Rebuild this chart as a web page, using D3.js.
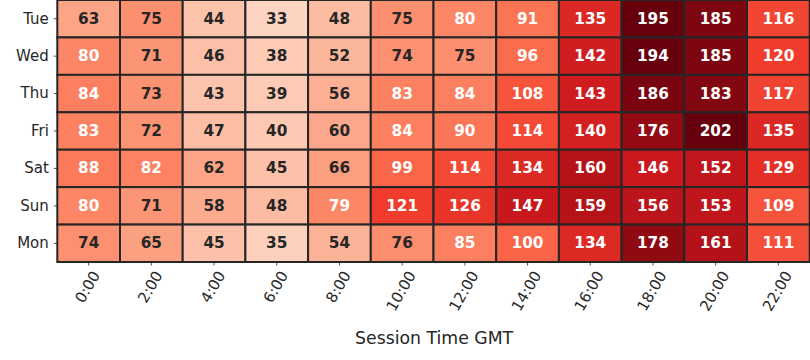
<!DOCTYPE html>
<html>
<head>
<meta charset="utf-8">
<script src="https://cdn.jsdelivr.net/npm/d3@7"></script>
<style>
  html, body { margin: 0; padding: 0; background: #fff; }
  svg { display: block; font-family: "DejaVu Sans", sans-serif; }
</style>
</head>
<body>
<svg id="chart" width="810" height="360"></svg>
<script>
// ---- data ----
const days = ["Tue", "Wed", "Thu", "Fri", "Sat", "Sun", "Mon"];
const hours = ["0:00", "2:00", "4:00", "6:00", "8:00", "10:00", "12:00", "14:00", "16:00", "18:00", "20:00", "22:00"];
const tue = [63, 75, 44, 33, 48, 75, 80, 91, 135, 195, 185, 116];
const wed = [80, 71, 46, 38, 52, 74, 75, 96, 142, 194, 185, 120];
const thu = [84, 73, 43, 39, 56, 83, 84, 108, 143, 186, 183, 117];
const fri = [83, 72, 47, 40, 60, 84, 90, 114, 140, 176, 202, 135];
const sat = [88, 82, 62, 45, 66, 99, 114, 134, 160, 146, 152, 129];
const sun = [80, 71, 58, 48, 79, 121, 126, 147, 159, 156, 153, 109];
const mon = [74, 65, 45, 35, 54, 76, 85, 100, 134, 178, 161, 111];
const xLabel = "Session Time GMT";

const rows = [tue, wed, thu, fri, sat, sun, mon];
const cells = [];
rows.forEach((r, i) => r.forEach((v, j) => cells.push({ day: days[i], hour: hours[j], value: v })));

// ---- layout ----
const mLeft = 57.3, mRight = 810, mTop = 0, mBottom = 262;
const tickFont = 15;
const svg = d3.select("#chart");

const x = d3.scaleBand().domain(hours).range([mLeft, mLeft + 12 * 62.7]).padding(0);
const y = d3.scaleBand().domain(days).range([mTop, mBottom]).padding(0);

// matplotlib "Reds" colormap (linear segments through ColorBrewer stops), robust upper limit
const redsStops = ["#fff5f0", "#fee0d2", "#fcbba1", "#fc9272", "#fb6a4a", "#ef3b2c", "#cb181d", "#a50f15", "#67000d"];
const vmin = 0;
const vmax = d3.quantile(cells.map(d => d.value).sort(d3.ascending), 0.98);
const cmap = d3.scaleLinear()
  .domain(redsStops.map((_, i) => i / (redsStops.length - 1)))
  .range(redsStops)
  .interpolate(d3.interpolateRgb)
  .clamp(true);
const norm = d3.scaleLinear().domain([vmin, vmax]).range([0, 1]).clamp(true);
const color = v => {
  const t = Math.min(Math.floor(norm(v) * 256), 255) / 255;
  return cmap(t);
};

function lum(c) {
  const rgb = d3.rgb(c);
  const f = v => { v /= 255; return v <= 0.03928 ? v / 12.92 : Math.pow((v + 0.055) / 1.055, 2.4); };
  return 0.2126 * f(rgb.r) + 0.7152 * f(rgb.g) + 0.0722 * f(rgb.b);
}

// cells
svg.append("g").selectAll("rect").data(cells).join("rect")
  .attr("x", d => x(d.hour))
  .attr("y", d => y(d.day))
  .attr("width", x.bandwidth())
  .attr("height", y.bandwidth())
  .attr("fill", d => color(d.value))
  .attr("stroke", "#262626")
  .attr("stroke-width", 2);

// annotations
svg.append("g").selectAll("text").data(cells).join("text")
  .attr("x", d => x(d.hour) + x.bandwidth() / 2)
  .attr("y", d => y(d.day) + y.bandwidth() / 2)
  .attr("text-anchor", "middle")
  .attr("dominant-baseline", "central")
  .attr("font-size", "15.3px")
  .attr("font-weight", "bold")
  .attr("fill", d => lum(color(d.value)) > 0.408 ? "#262626" : "#ffffff")
  .text(d => d.value);

// y axis
const yAxis = svg.append("g")
  .attr("transform", `translate(${mLeft},0)`)
  .call(d3.axisLeft(y).tickSize(3.5).tickPadding(5));
yAxis.select(".domain").remove();
yAxis.selectAll(".tick line").attr("stroke", "#262626").attr("stroke-width", 0.8);
yAxis.selectAll(".tick text")
  .attr("font-size", tickFont + "px")
  .attr("font-family", "DejaVu Sans, sans-serif")
  .attr("fill", "#262626");

// x axis
const xAxis = svg.append("g")
  .attr("transform", `translate(0,${mBottom})`)
  .call(d3.axisBottom(x).tickSize(3.5).tickPadding(3.5));
xAxis.select(".domain").remove();
xAxis.selectAll(".tick line").attr("stroke", "#262626").attr("stroke-width", 0.8);
const ang = 60 * Math.PI / 180;
xAxis.selectAll(".tick text")
  .attr("font-size", tickFont + "px")
  .attr("font-family", "DejaVu Sans, sans-serif")
  .attr("fill", "#262626")
  .attr("text-anchor", "middle")
  .attr("dominant-baseline", "central")
  .attr("dy", null)
  .each(function () {
    const w = this.getComputedTextLength();
    const h = tickFont * 0.9;
    const bh = w * Math.sin(ang) + h * Math.cos(ang);
    const cy = 3.5 + 3.5 + bh / 2;
    d3.select(this).attr("y", null).attr("transform", `translate(-1,${cy}) rotate(-60)`);
  });

// x label
svg.append("text")
  .attr("x", (mLeft + mRight) / 2 + 0.5)
  .attr("y", 344)
  .attr("text-anchor", "middle")
  .attr("font-size", "17.3px")
  .attr("fill", "#262626")
  .text(xLabel);
</script>
</body>
</html>
